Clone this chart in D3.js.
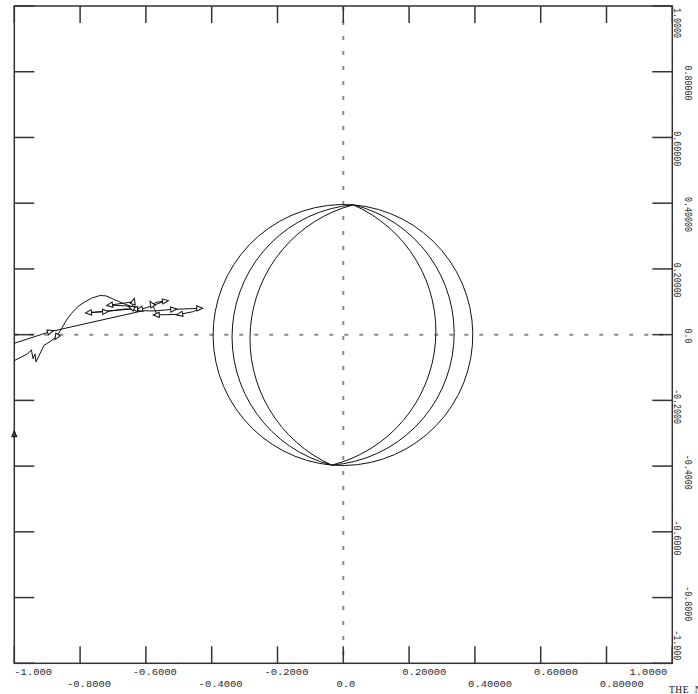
<!DOCTYPE html>
<html><head><meta charset="utf-8">
<script src="https://cdn.jsdelivr.net/npm/d3@7/dist/d3.min.js"></script>
<style>html,body{margin:0;padding:0;background:#fff;} svg{display:block;}</style>
</head><body>
<script>
// ---- data ----
const xTicks = [-1.0, -0.8, -0.6, -0.4, -0.2, 0.0, 0.2, 0.4, 0.6, 0.8, 1.0];
const xTickLabels = ["-1.000", "-0.8000", "-0.6000", "-0.4000", "-0.2000", "0.0", "0.20000", "0.40000", "0.60000", "0.80000", "1.0000"];
const yTicks = [-1.0, -0.8, -0.6, -0.4, -0.2, 0.0, 0.2, 0.4, 0.6, 0.8, 1.0];
const yTickLabels = ["-1.000", "-0.8000", "-0.6000", "-0.4000", "-0.2000", "0.0", "0.20000", "0.40000", "0.60000", "0.80000", "1.0000"];

// three closed curves sharing top and bottom points; extremes read at y = 0
const lensTop = [0.030, 0.395];
const lensBottom = [-0.035, -0.397];
const lensLeftX = [-0.397, -0.339, -0.284];
const lensRightX = [0.395, 0.338, 0.282];

// response trace
const traceX = [-1.030, -0.8915, -0.608, -0.578, -0.517, -0.438, -0.456, -0.496, -0.567, -0.571,
  -0.582, -0.566, -0.542, -0.598, -0.618, -0.633, -0.643, -0.638, -0.709, -0.654,
  -0.624, -0.679, -0.773, -0.724, -0.664, -0.613, -0.638, -0.669, -0.699, -0.721,
  -0.740, -0.765, -0.785, -0.805, -0.826, -0.841, -0.856, -0.871, -0.8915, -0.910,
  -0.934, -0.937, -0.943, -0.948, -0.961, -1.000, -1.031];
const traceY = [-0.036, 0.009, 0.073, 0.072, 0.077, 0.080, 0.070, 0.062, 0.060, 0.073,
  0.092, 0.099, 0.102, 0.082, 0.077, 0.078, 0.082, 0.100, 0.090, 0.087,
  0.080, 0.075, 0.067, 0.070, 0.078, 0.077, 0.083, 0.095, 0.108, 0.118,
  0.119, 0.111, 0.100, 0.087, 0.065, 0.045, 0.019, -0.006, -0.021, -0.033,
  -0.083, -0.059, -0.073, -0.047, -0.059, -0.079, -0.091];
const markerIdx = [1, 4, 5, 7, 8, 10, 12, 14, 15, 16, 17, 18, 22, 23, 37];
const offscaleX = [-1.0];
const offscaleY = [-0.303];
const titleText = "THE  NYQUIST";

// ---- layout ----
const W = 698, H = 694;
const L = 14.3, R = 672.3, T = 6, B = 663.3;
const x = d3.scaleLinear().domain([-1, 1]).range([L, R]);
const y = d3.scaleLinear().domain([-1, 1]).range([B, T]);

const svg = d3.select("body").append("svg").attr("width", W).attr("height", H);
svg.append("defs").append("clipPath").attr("id", "clip")
  .append("rect").attr("x", L).attr("y", T).attr("width", R - L).attr("height", B - T);

// dotted zero lines
const grid = svg.append("g").attr("stroke", "#8a8a8a").attr("stroke-width", 2).attr("stroke-dasharray", "4,11");
grid.append("line").attr("x1", x(0)).attr("x2", x(0)).attr("y1", T).attr("y2", B);
grid.append("line").attr("x1", L).attr("x2", R).attr("y1", y(0)).attr("y2", y(0));

// frame and ticks
const ax = svg.append("g").attr("stroke", "#333").attr("stroke-width", 1.5).attr("fill", "none");
ax.append("rect").attr("x", L).attr("y", T).attr("width", R - L).attr("height", B - T);
const tlV = 17, tlH = 20;
xTicks.forEach(v => {
  ax.append("line").attr("x1", x(v)).attr("x2", x(v)).attr("y1", T).attr("y2", T + tlV);
  ax.append("line").attr("x1", x(v)).attr("x2", x(v)).attr("y1", B).attr("y2", B - tlV);
});
yTicks.forEach(v => {
  ax.append("line").attr("y1", y(v)).attr("y2", y(v)).attr("x1", L).attr("x2", L + tlH);
  ax.append("line").attr("y1", y(v)).attr("y2", y(v)).attr("x1", R).attr("x2", R - tlH);
});

// x labels
const xPitch = 6.3, xFs = 9, xSx = xPitch / (xFs * 0.6);
const xl = svg.append("g").attr("font-family", "Liberation Mono, DejaVu Sans Mono, monospace")
  .attr("font-size", xFs).attr("fill", "#2a2a2a");
xTicks.forEach((v, i) => {
  const s = xTickLabels[i];
  const d = s.indexOf(".");
  let start = x(v) - d * xPitch - 0.5;
  const w = s.length * xPitch;
  if (start < L) start = L;
  if (start + w > R - 5) start = R - 5 - w;
  const base = i % 2 === 0 ? 674.5 : 686.5;
  xl.append("text").attr("transform", `translate(${start},${base}) scale(${xSx},1)`).text(s);
});

// y labels (rotated, reading downward)
const yPitch = 5.0, yFs = 10, ySx = yPitch / (yFs * 0.6);
const yl = svg.append("g").attr("font-family", "Liberation Mono, DejaVu Sans Mono, monospace")
  .attr("font-size", yFs).attr("fill", "#2a2a2a");
yTicks.forEach((v, i) => {
  const s = yTickLabels[i];
  const d = s.indexOf(".");
  let start = y(v) - (d + 0.25) * yPitch;
  const w = s.length * yPitch;
  if (start < T + 2) start = T + 2;
  if (start + w > B - 3) start = B - 3 - w;
  const bx = i % 2 === 0 ? 673.5 : 685;
  yl.append("text").attr("transform", `translate(${bx},${start}) rotate(90) scale(${ySx},1)`).text(s);
});

// lens curves drawn as circular arcs through top, bottom and the read extreme
const curves = svg.append("g").attr("fill", "none").attr("stroke", "#111").attr("stroke-width", 1);
const tx = x(lensTop[0]), ty = y(lensTop[1]), bxp = x(lensBottom[0]), byp = y(lensBottom[1]);
const mx = (tx + bxp) / 2, my = (ty + byp) / 2;
const cl = Math.hypot(tx - bxp, ty - byp), h = cl / 2;
const dx = (tx - bxp) / cl, dy = (ty - byp) / cl;
const nx = -dy, ny = dx; // normal
function arcPath(ex, sweepSide) {
  const px = x(ex), py = y(0);
  const s = Math.abs((px - mx) * nx + (py - my) * ny);
  const r = (h * h + s * s) / (2 * s);
  const large = s > h ? 1 : 0;
  return `M${tx},${ty} A${r},${r} 0 ${large} ${sweepSide} ${bxp},${byp}`;
}
lensLeftX.forEach((ex, i) => {
  curves.append("path").attr("d", arcPath(ex, 0));
  curves.append("path").attr("d", arcPath(lensRightX[i], 1));
});

// trace
const pts = traceX.map((v, i) => [x(v), y(traceY[i])]);
const dataG = svg.append("g").attr("clip-path", "url(#clip)");
dataG.append("path").attr("d", d3.line()(pts)).attr("fill", "none").attr("stroke", "#111").attr("stroke-width", 1);

const tri = "M3.5,0 L-2.5,-2.6 L-2.5,2.6 Z";
markerIdx.forEach(i => {
  const p = pts[i], q = pts[i - 1];
  const ang = Math.atan2(p[1] - q[1], p[0] - q[0]) * 180 / Math.PI;
  dataG.append("path").attr("d", tri)
    .attr("transform", `translate(${p[0]},${p[1]}) rotate(${ang})`)
    .attr("fill", "#fff").attr("stroke", "#111").attr("stroke-width", 1);
});
offscaleX.forEach((v, i) => {
  svg.append("path").attr("d", tri)
    .attr("transform", `translate(${x(v)},${y(offscaleY[i])}) rotate(-90)`)
    .attr("fill", "#444").attr("stroke", "#111").attr("stroke-width", 1);
});

// title (runs off the right edge, as in the reference)
svg.append("text").attr("x", 669).attr("y", 693)
  .attr("font-family", "Liberation Serif, Times New Roman, serif").attr("font-size", 9.5)
  .attr("letter-spacing", 0.5).attr("fill", "#111")
  .style("white-space", "pre").text(titleText);
</script>
</body></html>
